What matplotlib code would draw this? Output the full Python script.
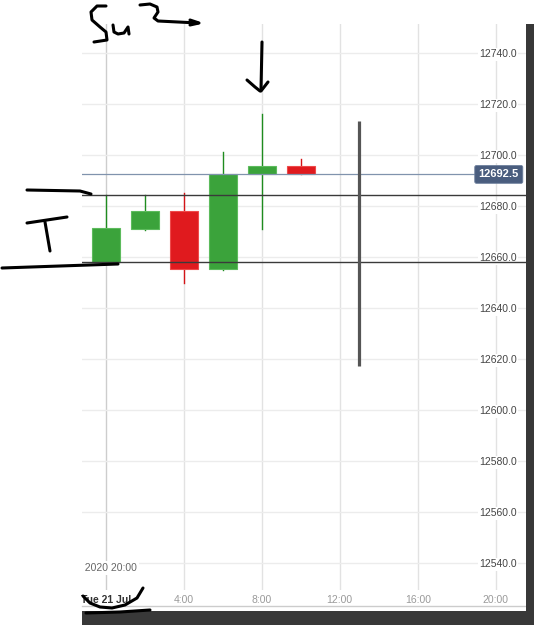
import matplotlib
matplotlib.use("Agg")
import matplotlib.pyplot as plt
from matplotlib.lines import Line2D
from matplotlib.patches import Rectangle, FancyBboxPatch

plt.rcParams["font.family"] = ["Liberation Sans", "DejaVu Sans"]

# candles: hours after Tue 21 Jul 00:00
hours = [0, 2, 4, 6, 8, 10]
opens = [12658.0, 12671.0, 12678.2, 12655.3, 12692.5, 12695.9]
highs = [12684.4, 12684.4, 12685.3, 12701.4, 12716.2, 12698.4]
lows = [12658.0, 12670.6, 12650.0, 12655.0, 12671.1, 12692.5]
closes = [12671.4, 12678.2, 12655.3, 12692.5, 12695.9, 12692.5]

last_price = 12692.5
level_lines = [12684.4, 12658.3]
marker_hour = 13
marker_range = [12617.5, 12713.6]

x_ticks = [0, 4, 8, 12, 16, 20]
x_labels = ["Tue 21 Jul", "4:00", "8:00", "12:00", "16:00", "20:00"]
y_ticks = [12540, 12560, 12580, 12600, 12620, 12640, 12660, 12680, 12700, 12720, 12740]

W, H = 534, 625
fig = plt.figure(figsize=(W / 100, H / 100), dpi=100)
fig.patch.set_facecolor("white")


def fp(x, y):
    return x / W, 1 - y / H


ax = fig.add_axes([82 / W, 1 - 590 / H, (526 - 82) / W, (590 - 24) / H])
ax.set_xlim(-1.215, 21.55)
ax.set_ylim(12529.5, 12751.5)
for s in ax.spines.values():
    s.set_visible(False)
ax.set_axisbelow(True)

# grid
ax.set_yticks(y_ticks)
ax.set_yticklabels([f"{v:.1f}" for v in y_ticks])
ax.set_xticks(x_ticks)
ax.set_xticklabels(x_labels)
ax.grid(axis="y", color="#ececec", lw=1.0)
ax.grid(axis="x", color="#e2e2e2", lw=1.0)
ax.get_xgridlines()[0].set_color("#cdcdcd")

ax.yaxis.tick_right()
ax.tick_params(axis="y", length=0, pad=-6.5, labelsize=7.5, labelcolor="#444444")
for t in ax.get_yticklabels():
    t.set_horizontalalignment("right")
    t.set_bbox(dict(facecolor="white", edgecolor="none", pad=1.0))
ax.tick_params(axis="x", length=0, pad=3.5, labelsize=7.5, labelcolor="#9a9a9a")
first = ax.get_xticklabels()[0]
first.set_color("#333333")
first.set_fontweight("semibold")

ax.text((137 - 82) / 444, (590 - 568) / 566, "20 Jul 2020 20:00", transform=ax.transAxes,
        ha="right", va="center", fontsize=7.5, color="#666666", clip_on=True,
        bbox=dict(facecolor="white", edgecolor="none", pad=1.5), zorder=1)

# candles
body_w = 1.42
for h, o, hi, lo, c in zip(hours, opens, highs, lows, closes):
    up = c >= o
    col = "#3ba33b" if up else "#e01a1e"
    edge = "#5dbb5d" if up else "#ee4a4a"
    wick = "#1f8c1f" if up else "#d41418"
    ax.plot([h, h], [lo, hi], color=wick, lw=1.0, zorder=2)
    ax.add_patch(Rectangle((h - body_w / 2, min(o, c)), body_w, abs(c - o),
                           facecolor=col, edgecolor=edge, lw=0.8, zorder=3))

# horizontal levels
for lv in level_lines:
    ax.axhline(lv, color="#3a3a3a", lw=1.0, zorder=4)
ax.axhline(last_price, xmax=0.885, color="#8093ad", lw=0.9, zorder=4)
ax.plot([marker_hour, marker_hour], marker_range, color="#555555", lw=2.3,
        solid_capstyle="butt", zorder=4)

# last price tag
ax.text(0.984, last_price, f"{last_price:.1f}", transform=ax.get_yaxis_transform(),
        ha="right", va="center", fontsize=8, color="white", fontweight="bold", zorder=6,
        bbox=dict(boxstyle="round,pad=0.35,rounding_size=0.15", facecolor="#4a5d7e",
                  edgecolor="#6d7f9c", lw=0.6))

# frame bands
fig.add_artist(Rectangle(fp(526, 625), 8 / W, (625 - 24) / H, transform=fig.transFigure,
                         facecolor="#383838", edgecolor="none", zorder=5))
fig.add_artist(Rectangle(fp(82, 625), (534 - 82) / W, 14 / H, transform=fig.transFigure,
                         facecolor="#383838", edgecolor="none", zorder=5))
fig.add_artist(Line2D([82 / W, 526 / W], [1 - 606 / H] * 2, transform=fig.transFigure,
                      color="#cccccc", lw=1.0))

# handwritten marks
strokes = [
    [(106, 6), (97, 6), (91, 12), (92, 20), (100, 27), (106, 32), (107, 40), (94, 42)],
    [(113, 25), (114, 32), (118, 34), (124, 33), (128, 27), (129, 34)],
    [(140, 5), (150, 4), (157, 7), (158, 12), (154, 18), (158, 21), (198, 23)],
    [(190, 20), (199, 23), (190, 25)],
    [(262, 42), (261, 90)],
    [(247, 80), (255, 87), (260, 91)],
    [(268, 82), (261, 91)],
    [(27, 190), (80, 191), (91, 194)],
    [(27, 223), (67, 217)],
    [(45, 222), (50, 251)],
    [(2, 268), (60, 266), (118, 264)],
    [(83, 596), (90, 603), (100, 607), (112, 608), (125, 605), (137, 598), (143, 588)],
    [(86, 613), (120, 612), (150, 610)],
]
for st in strokes:
    xs = [fp(x, y)[0] for x, y in st]
    ys = [fp(x, y)[1] for x, y in st]
    fig.add_artist(Line2D(xs, ys, transform=fig.transFigure, color="black", lw=2.2,
                          solid_capstyle="round", solid_joinstyle="round", zorder=10))

fig.savefig("out.png", dpi=100)
